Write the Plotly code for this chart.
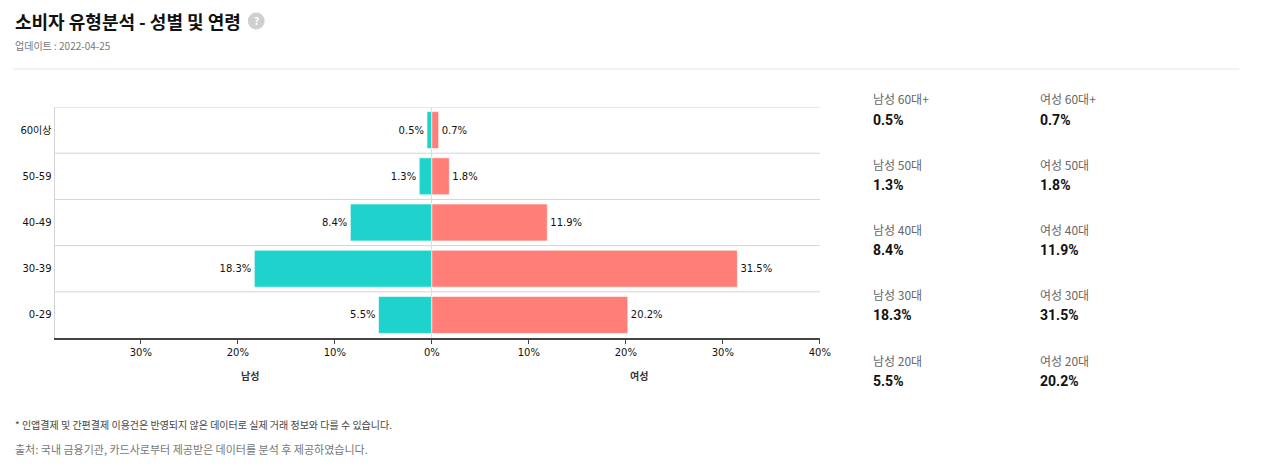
import plotly.graph_objects as go

# ---- data ----
ages = ["0-29", "30-39", "40-49", "50-59", "60이상"]
male = [5.5, 18.3, 8.4, 1.3, 0.5]
female = [20.2, 31.5, 11.9, 1.8, 0.7]
panel_ages = ["60대+", "50대", "40대", "30대", "20대"]
panel_male = [0.5, 1.3, 8.4, 18.3, 5.5]
panel_female = [0.7, 1.8, 11.9, 31.5, 20.2]
tick_vals = [-30, -20, -10, 0, 10, 20, 30, 40]
tick_text = ["30%", "20%", "10%", "0%", "10%", "20%", "30%", "40%"]

W, H = 1270, 471
def px(x): return x / W
def py(y): return 1 - y / H

CHART_FONT = "DejaVu Sans, Noto Sans CJK KR, sans-serif"
UI_FONT = "Noto Sans CJK KR, Noto Sans, sans-serif"
NUM_FONT = "Roboto, Noto Sans CJK KR, sans-serif"

fig = go.Figure()
fig.add_trace(go.Bar(
    y=ages, x=[-v for v in male], orientation="h", name="남성",
    marker=dict(color="#1DD3CB", line=dict(color="rgba(255,255,255,0.6)", width=1)),
    text=[f"{v}%" for v in male], textposition="outside",
    textfont=dict(size=10, color="#111", family=CHART_FONT), cliponaxis=False,
    hoverinfo="skip",
))
fig.add_trace(go.Bar(
    y=ages, x=female, orientation="h", name="여성",
    marker=dict(color="#FF7F78", line=dict(color="rgba(255,255,255,0.6)", width=1)),
    text=[f"{v}%" for v in female], textposition="outside",
    textfont=dict(size=10, color="#111", family=CHART_FONT), cliponaxis=False,
    hoverinfo="skip",
))

shapes = []
for i in range(len(ages)):
    shapes.append(dict(type="line", xref="x domain", yref="y", x0=0, x1=1,
                       y0=i + 0.5, y1=i + 0.5, line=dict(color="#d4d4d4", width=1), layer="below"))
# separator
shapes.append(dict(type="line", xref="paper", yref="paper", x0=px(13), x1=px(1250),
                   y0=py(69), y1=py(69), line=dict(color="#e6e6e6", width=1)))
# help icon
shapes.append(dict(type="circle", xref="paper", yref="paper", x0=px(250), x1=px(267),
                   y0=py(29.5), y1=py(12.5), fillcolor="#cfcfcf", line=dict(width=0)))

ann = []
ann.append(dict(text="<b>소비자 유형분석 - 성별 및 연령</b>", x=px(13), y=py(21), xref="paper", yref="paper",
                xanchor="left", yanchor="middle", showarrow=False,
                font=dict(size=18, color="#111", family=UI_FONT)))
ann.append(dict(text="<b>?</b>", x=px(258.5), y=py(21), xref="paper", yref="paper",
                xanchor="center", yanchor="middle", showarrow=False,
                font=dict(size=10, color="#ffffff", family=UI_FONT)))
ann.append(dict(text="업데이트 : 2022-04-25", x=px(13), y=py(46), xref="paper", yref="paper",
                xanchor="left", yanchor="middle", showarrow=False,
                font=dict(size=10, color="#777", family=UI_FONT)))
ann.append(dict(text="<b>남성</b>", x=px(252), y=py(376), xref="paper", yref="paper",
                xanchor="center", yanchor="middle", showarrow=False,
                font=dict(size=10, color="#333", family=CHART_FONT)))
ann.append(dict(text="<b>여성</b>", x=px(645), y=py(376), xref="paper", yref="paper",
                xanchor="center", yanchor="middle", showarrow=False,
                font=dict(size=10, color="#333", family=CHART_FONT)))
for i, a in enumerate(panel_ages):
    yl = 99 + i * 65.3
    ann.append(dict(text=f"남성 {a}", x=px(879), y=py(yl), xref="paper", yref="paper",
                    xanchor="left", yanchor="middle", showarrow=False,
                    font=dict(size=12, color="#666", family=UI_FONT)))
    ann.append(dict(text=f"여성 {a}", x=px(1047), y=py(yl), xref="paper", yref="paper",
                    xanchor="left", yanchor="middle", showarrow=False,
                    font=dict(size=12, color="#666", family=UI_FONT)))
    ann.append(dict(text=f"<b>{panel_male[i]}%</b>", x=px(879), y=py(yl + 20.5), xref="paper", yref="paper",
                    xanchor="left", yanchor="middle", showarrow=False,
                    font=dict(size=14, color="#111", family=NUM_FONT)))
    ann.append(dict(text=f"<b>{panel_female[i]}%</b>", x=px(1047), y=py(yl + 20.5), xref="paper", yref="paper",
                    xanchor="left", yanchor="middle", showarrow=False,
                    font=dict(size=14, color="#111", family=NUM_FONT)))
ann.append(dict(text="* 인앱결제 및 간편결제 이용건은 반영되지 않은 데이터로 실제 거래 정보와 다를 수 있습니다.",
                x=px(13), y=py(424), xref="paper", yref="paper", xanchor="left", yanchor="middle",
                showarrow=False, font=dict(size=10, color="#444", family=UI_FONT)))
ann.append(dict(text="출처: 국내 금융기관, 카드사로부터 제공받은 데이터를 분석 후 제공하였습니다.",
                x=px(13), y=py(449), xref="paper", yref="paper", xanchor="left", yanchor="middle",
                showarrow=False, font=dict(size=11, color="#777", family=UI_FONT)))

fig.update_layout(
    width=W, height=H, margin=dict(l=0, r=0, t=0, b=0),
    paper_bgcolor="white", plot_bgcolor="white",
    barmode="overlay", bargap=0.2, showlegend=False,
    shapes=shapes, annotations=ann,
    xaxis=dict(domain=[px(55), px(827)], range=[-38.9, 40], tickvals=tick_vals, ticktext=tick_text,
               showgrid=False, zeroline=True, zerolinecolor="#dddddd", zerolinewidth=1,
               showline=True, linecolor="#444", linewidth=2, ticks="outside", ticklen=4,
               tickcolor="#444", tickfont=dict(size=10, color="#111", family=CHART_FONT)),
    yaxis=dict(domain=[py(338), py(107)], range=[-0.5, 4.5], type="category",
               categoryorder="array", categoryarray=ages,
               showgrid=False, showline=True, linecolor="#d4d4d4", linewidth=1,
               ticks="", tickfont=dict(size=10, color="#111", family=CHART_FONT)),
)

fig.write_html(
    "out.html",
    config={"displayModeBar": False, "responsive": False},
    post_script=("document.documentElement.style.margin='0';document.documentElement.style.padding='0';"
                 "document.documentElement.style.overflow='hidden';"
                 "document.body.style.margin='0';document.body.style.padding='0';"
                 "document.body.style.overflow='hidden';"),
)
